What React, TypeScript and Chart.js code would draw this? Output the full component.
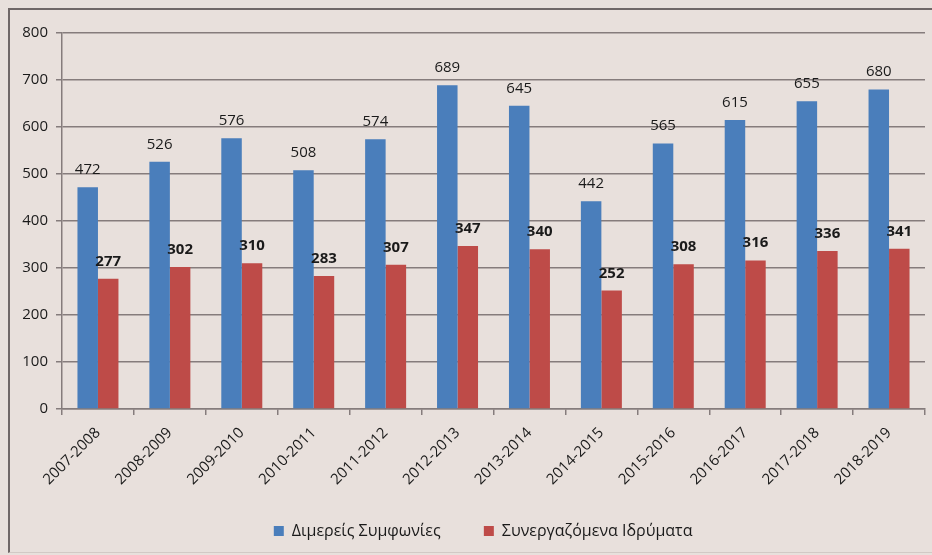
import React, { useEffect, useRef } from "react";
import { Chart, registerables } from "chart.js";

Chart.register(...registerables);

const categories = [
  "2007-2008", "2008-2009", "2009-2010", "2010-2011", "2011-2012", "2012-2013",
  "2013-2014", "2014-2015", "2015-2016", "2016-2017", "2017-2018", "2018-2019",
];
const agreements = [472, 526, 576, 508, 574, 689, 645, 442, 565, 615, 655, 680];
const institutions = [277, 302, 310, 283, 307, 347, 340, 252, 308, 316, 336, 341];
const seriesNames = ["Διμερείς Συμφωνίες", "Συνεργαζόμενα Ιδρύματα"];
const yMin = 0;
const yMax = 800;
const yStep = 100;

const FONT = "'Open Sans', 'Noto Sans', sans-serif";
const TEXT = "#1a1a1a";
const GRID = "#857c7c";
const BG = "#e8e0dc";

const valueLabels = {
  id: "valueLabels",
  afterDatasetsDraw(chart: any) {
    const ctx = chart.ctx;
    chart.data.datasets.forEach((ds: any, i: number) => {
      const meta = chart.getDatasetMeta(i);
      meta.data.forEach((bar: any, j: number) => {
        ctx.save();
        ctx.font = `${i === 1 ? "bold " : ""}15px ${FONT}`;
        ctx.fillStyle = TEXT;
        ctx.textAlign = "center";
        ctx.textBaseline = "alphabetic";
        ctx.fillText(String(ds.data[j]), bar.x, bar.y - 13);
        ctx.restore();
      });
    });
  },
};

export default function App() {
  const ref = useRef<HTMLCanvasElement | null>(null);

  useEffect(() => {
    document.body.style.margin = "0";
    const canvas = ref.current;
    if (!canvas) return;
    const chart = new Chart(canvas, {
      type: "bar",
      data: {
        labels: categories,
        datasets: [
          {
            label: seriesNames[0],
            data: agreements,
            backgroundColor: "#4a7ebb",
            borderWidth: 0,
            categoryPercentage: 0.57,
            barPercentage: 1,
          },
          {
            label: seriesNames[1],
            data: institutions,
            backgroundColor: "#be4b48",
            borderWidth: 0,
            categoryPercentage: 0.57,
            barPercentage: 1,
          },
        ],
      },
      options: {
        responsive: false,
        animation: false,
        layout: { padding: { left: 10, right: 7, top: 33, bottom: 6 } },
        plugins: {
          tooltip: { enabled: false },
          legend: {
            position: "bottom",
            fullSize: false,
            labels: {
              boxWidth: 10,
              boxHeight: 10,
              padding: 10,
              color: TEXT,
              font: { family: FONT, size: 16 },
              generateLabels(c: any) {
                const items = Chart.defaults.plugins.legend.labels.generateLabels(c);
                const pads = ["        ", "     "];
                items.forEach((it: any, k: number) => {
                  it.text = it.text + pads[k];
                  it.lineWidth = 0;
                });
                return items;
              },
            },
          },
        },
        scales: {
          x: {
            grid: {
              display: true,
              drawOnChartArea: false,
              drawTicks: true,
              tickLength: 6,
              color: GRID,
              lineWidth: 1.5,
            },
            border: { color: GRID, width: 1.5 },
            ticks: {
              color: TEXT,
              font: { family: FONT, size: 15 },
              minRotation: 45,
              maxRotation: 45,
              padding: 9,
              autoSkip: false,
            },
            afterFit(s: any) {
              s.height = 104;
            },
          },
          y: {
            min: yMin,
            max: yMax,
            grid: {
              color: GRID,
              lineWidth: 1.5,
              tickLength: 6,
            },
            border: { color: GRID, width: 1.5 },
            ticks: {
              stepSize: yStep,
              color: TEXT,
              font: { family: FONT, size: 15 },
              padding: 8,
            },
            afterFit(s: any) {
              s.width = 52;
            },
          },
        },
      },
      plugins: [valueLabels],
    } as any);
    return () => chart.destroy();
  }, []);

  return (
    <div
      style={{
        position: "relative",
        width: 932,
        height: 555,
        background: BG,
        overflow: "hidden",
      }}
    >
      <div
        style={{
          position: "absolute",
          left: 8,
          top: 8,
          width: 940,
          height: 545,
          borderLeft: "2px solid #6f6767",
          borderTop: "2px solid #6f6767",
          borderBottom: "1px solid #d2c9c5",
          boxSizing: "border-box",
        }}
      />
      <canvas
        ref={ref}
        width={932}
        height={555}
        style={{ position: "absolute", left: 0, top: 0, display: "block" }}
      />
    </div>
  );
}
